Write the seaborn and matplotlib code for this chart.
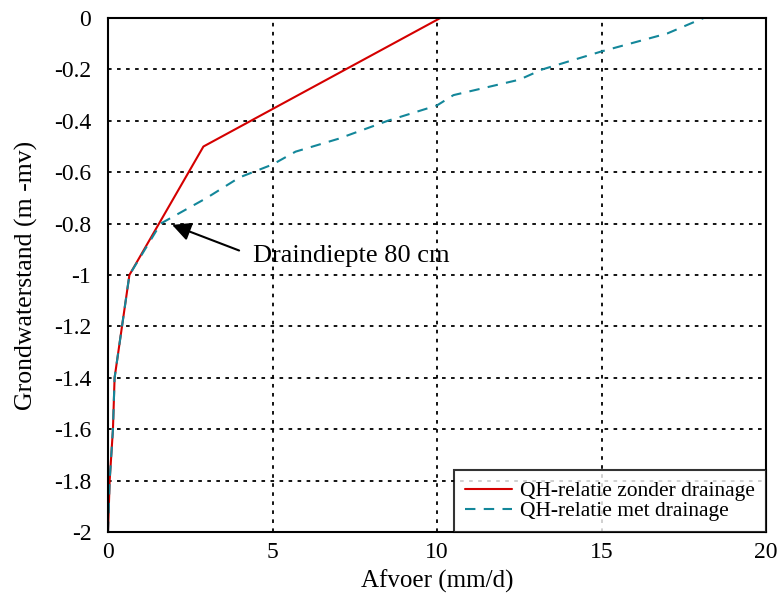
import matplotlib
matplotlib.use('Agg')
import matplotlib.pyplot as plt
import seaborn as sns
import pandas as pd

# QH-relatie zonder drainage
q_zonder = [0.0, 0.05, 0.15, 0.2, 0.65, 2.9, 10.1]
h_zonder = [-2.0, -1.8, -1.6, -1.4, -1.0, -0.5, 0.0]

# QH-relatie met drainage
q_met = [0.0, 0.05, 0.15, 0.2, 0.65, 1.6, 3.0, 4.0, 5.0, 5.7, 7.0, 8.5, 10.0, 10.5, 12.5, 13.2, 15.0, 17.0, 18.1]
h_met = [-2.0, -1.8, -1.6, -1.4, -1.0, -0.8, -0.7, -0.62, -0.57, -0.52, -0.47, -0.4, -0.34, -0.3, -0.24, -0.2, -0.13, -0.06, 0.0]

xticks = [0, 5, 10, 15, 20]
yticks = [0, -0.2, -0.4, -0.6, -0.8, -1, -1.2, -1.4, -1.6, -1.8, -2]

sns.set_style('white')
plt.rcParams['font.family'] = ['Liberation Serif', 'DejaVu Serif']
plt.rcParams.update({'text.color': 'black', 'axes.labelcolor': 'black',
                     'xtick.color': 'black', 'ytick.color': 'black'})

df1 = pd.DataFrame({'q': q_zonder, 'h': h_zonder})
df2 = pd.DataFrame({'q': q_met, 'h': h_met})

fig = plt.figure(figsize=(7.81, 5.95), dpi=100)
ax = fig.add_axes([0.1383, 0.1059, 0.8425, 0.8638])

sns.lineplot(data=df1, x='q', y='h', sort=False, estimator=None, color='#d40000', lw=1.5,
             label='QH-relatie zonder drainage', ax=ax)
sns.lineplot(data=df2, x='q', y='h', sort=False, estimator=None, color='#13879a', lw=1.5,
             label='QH-relatie met drainage', ax=ax)
ax.lines[1].set_dashes([5, 4])

ax.set_xlim(0, 20)
ax.set_ylim(-2, 0)
ax.set_xticks(xticks)
ax.set_yticks(yticks)
ax.set_xticklabels([str(t) for t in xticks])
ax.set_yticklabels(['0' if t == 0 else ('%g' % t) for t in yticks])
ax.grid(True, color='black', linestyle=(0, (2, 3)), lw=1.3)
ax.set_axisbelow(True)
for s in ax.spines.values():
    s.set_color('black')
    s.set_linewidth(1.5)
ax.tick_params(axis='y', direction='out', length=6, width=1.5, labelsize=17, pad=6)
ax.tick_params(axis='x', direction='out', length=4, width=1.5, labelsize=17, pad=3)
ax.set_xlabel('Afvoer (mm/d)', fontsize=18)
ax.set_ylabel('Grondwaterstand (m -mv)', fontsize=18.5)
ax.xaxis.set_label_coords(0.5, -0.074)
ax.yaxis.set_label_coords(-0.106, 0.5)

ax.annotate('Draindiepte 80 cm', xy=(1.95, -0.805), xytext=(4.4, -0.925),
            fontsize=19, ha='left', va='center',
            arrowprops=dict(arrowstyle='-|>', color='black', lw=1.5, mutation_scale=28,
                            relpos=(0, 0.5), shrinkA=8, shrinkB=0))

leg = ax.legend(loc='lower right', fontsize=15.5, frameon=True, fancybox=False,
                borderaxespad=0, handlelength=2.2, handletextpad=0.37,
                borderpad=0.5, labelspacing=0.0)
leg.get_frame().set_edgecolor('black')
leg.get_frame().set_linewidth(1.5)

fig.savefig('out.png', dpi=100)
